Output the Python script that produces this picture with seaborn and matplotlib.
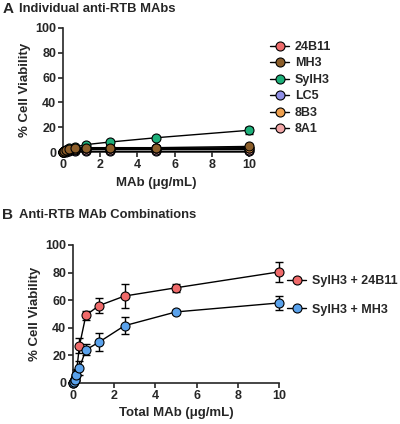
import numpy as np
import pandas as pd
import matplotlib
matplotlib.use("Agg")
import matplotlib.pyplot as plt
from matplotlib.lines import Line2D
import seaborn as sns

sns.set_style("ticks")
plt.rcParams['font.family'] = ['Liberation Sans', 'DejaVu Sans']
plt.rcParams['font.weight'] = 'bold'
plt.rcParams['axes.labelweight'] = 'bold'

# ---- Data ----
conc_a = [0, 0.078, 0.156, 0.3125, 0.625, 1.25, 2.5, 5, 10]
mab_names = ["24B11", "MH3", "SylH3", "LC5", "8B3", "8A1"]
mab_colors = ["#EE6B6B", "#8C5E2A", "#1DB07A", "#8F8FE6", "#EFA04E", "#F3A7A8"]
v_24b11 = [0, 1.0, 1.5, 2.0, 2.5, 3.0, 3.0, 3.0, 3.5]
v_mh3 = [0, 1.2, 2.0, 2.5, 3.0, 3.5, 3.5, 3.5, 4.5]
v_sylh3 = [0, 1.0, 2.0, 3.0, 4.0, 6.0, 8.0, 11.5, 17.5]
v_lc5 = [0, 0.3, 0.3, 0.5, 0.5, 0.5, 0.5, 0.5, 0.5]
v_8b3 = [0, 1.0, 1.8, 2.3, 2.5, 3.0, 3.0, 3.0, 3.0]
v_8a1 = [0, 0.8, 1.2, 1.5, 1.8, 2.0, 2.0, 2.0, 2.0]
e_sylh3 = [0, 0.5, 0.5, 0.5, 0.8, 1.0, 1.0, 1.2, 3.0]
e_small = [0, 0.3, 0.3, 0.3, 0.5, 0.5, 0.5, 0.8, 1.5]

conc_b = [0, 0.039, 0.078, 0.156, 0.3125, 0.625, 1.25, 2.5, 5, 10]
combo_names = ["SylH3 + 24B11", "SylH3 + MH3"]
combo_colors = ["#EF6A6A", "#5AA2EC"]
v_s_24b11 = [0, 1.5, 3.0, 6.0, 27.0, 49.0, 56.0, 63.0, 69.0, 80.5]
e_s_24b11 = [0, 1.0, 2.0, 4.0, 5.5, 3.5, 5.5, 8.5, 3.0, 7.5]
v_s_mh3 = [0, 1.0, 2.5, 5.5, 11.0, 24.0, 29.5, 41.5, 51.5, 58.0]
e_s_mh3 = [0, 1.0, 2.0, 4.0, 5.0, 4.0, 6.5, 6.0, 1.5, 5.0]

fig = plt.figure(figsize=(4.0, 4.24), dpi=100)
axA = fig.add_axes([0.1575, 0.6415, 0.465, 0.2925])
axB = fig.add_axes([0.1825, 0.0967, 0.515, 0.3255])

def draw(ax, x, names, colors, vals, errs):
    for name, col, v, e in zip(names, colors, vals, errs):
        df = pd.DataFrame({"x": x, "y": v})
        ax.errorbar(x, v, yerr=e, fmt='none', ecolor='black', elinewidth=1.0,
                    capsize=3, capthick=1.0, zorder=2, clip_on=False)
        sns.lineplot(data=df, x="x", y="y", color="black", lw=1.0, ax=ax,
                     zorder=3, legend=False)
        sns.scatterplot(data=df, x="x", y="y", color=col, edgecolor="black",
                        linewidth=0.8, s=42, ax=ax, zorder=4, legend=False,
                        clip_on=False)

def style(ax, xlabel):
    ax.set_xlim(0, 10)
    ax.set_ylim(0, 100)
    ax.set_xticks([0, 2, 4, 6, 8, 10])
    ax.set_yticks([0, 20, 40, 60, 80, 100])
    sns.despine(ax=ax)
    for s in ["left", "bottom"]:
        ax.spines[s].set_linewidth(1.2)
    ax.tick_params(width=1.2, length=3.5, labelsize=9, pad=1.5)
    for t in ax.get_xticklabels() + ax.get_yticklabels():
        t.set_fontweight('bold')
    ax.set_xlabel(xlabel, fontsize=9.5, fontweight='bold', labelpad=4)
    ax.set_ylabel("% Cell Viability", fontsize=9.5, fontweight='bold', labelpad=3)

order = [3, 5, 0, 4, 2, 1]
valsA = [v_24b11, v_mh3, v_sylh3, v_lc5, v_8b3, v_8a1]
errsA = [e_small, e_small, e_sylh3, e_small, e_small, e_small]
draw(axA, conc_a, [mab_names[i] for i in order], [mab_colors[i] for i in order],
     [valsA[i] for i in order], [errsA[i] for i in order])
style(axA, "MAb (\u03bcg/mL)")

draw(axB, conc_b, combo_names, combo_colors, [v_s_24b11, v_s_mh3], [e_s_24b11, e_s_mh3])
style(axB, "Total MAb (\u03bcg/mL)")

def make_handles(colors):
    return [Line2D([0], [0], color='black', lw=1.0, marker='o', markersize=6.5,
                   markerfacecolor=c, markeredgecolor='black', markeredgewidth=0.8)
            for c in colors]

legA = fig.legend(make_handles(mab_colors), mab_names, loc='upper left',
                  bbox_to_anchor=(0.648, 0.93), frameon=False, handlelength=1.5,
                  handletextpad=0.45, labelspacing=0.36, prop={'weight': 'bold', 'size': 9})
legB = fig.legend(make_handles(combo_colors), combo_names, loc='upper left',
                  bbox_to_anchor=(0.69, 0.377), frameon=False, handlelength=1.5,
                  handletextpad=0.45, labelspacing=1.3, prop={'weight': 'bold', 'size': 9})

fig.text(0.006, 0.978, "A", fontsize=11, fontweight='bold', va='center')
fig.text(0.048, 0.978, "Individual anti-RTB MAbs", fontsize=9.4, fontweight='bold', va='center')
fig.text(0.006, 0.492, "B", fontsize=11, fontweight='bold', va='center')
fig.text(0.048, 0.492, "Anti-RTB MAb Combinations", fontsize=9.4, fontweight='bold', va='center')

fig.savefig("out.png", dpi=100)
